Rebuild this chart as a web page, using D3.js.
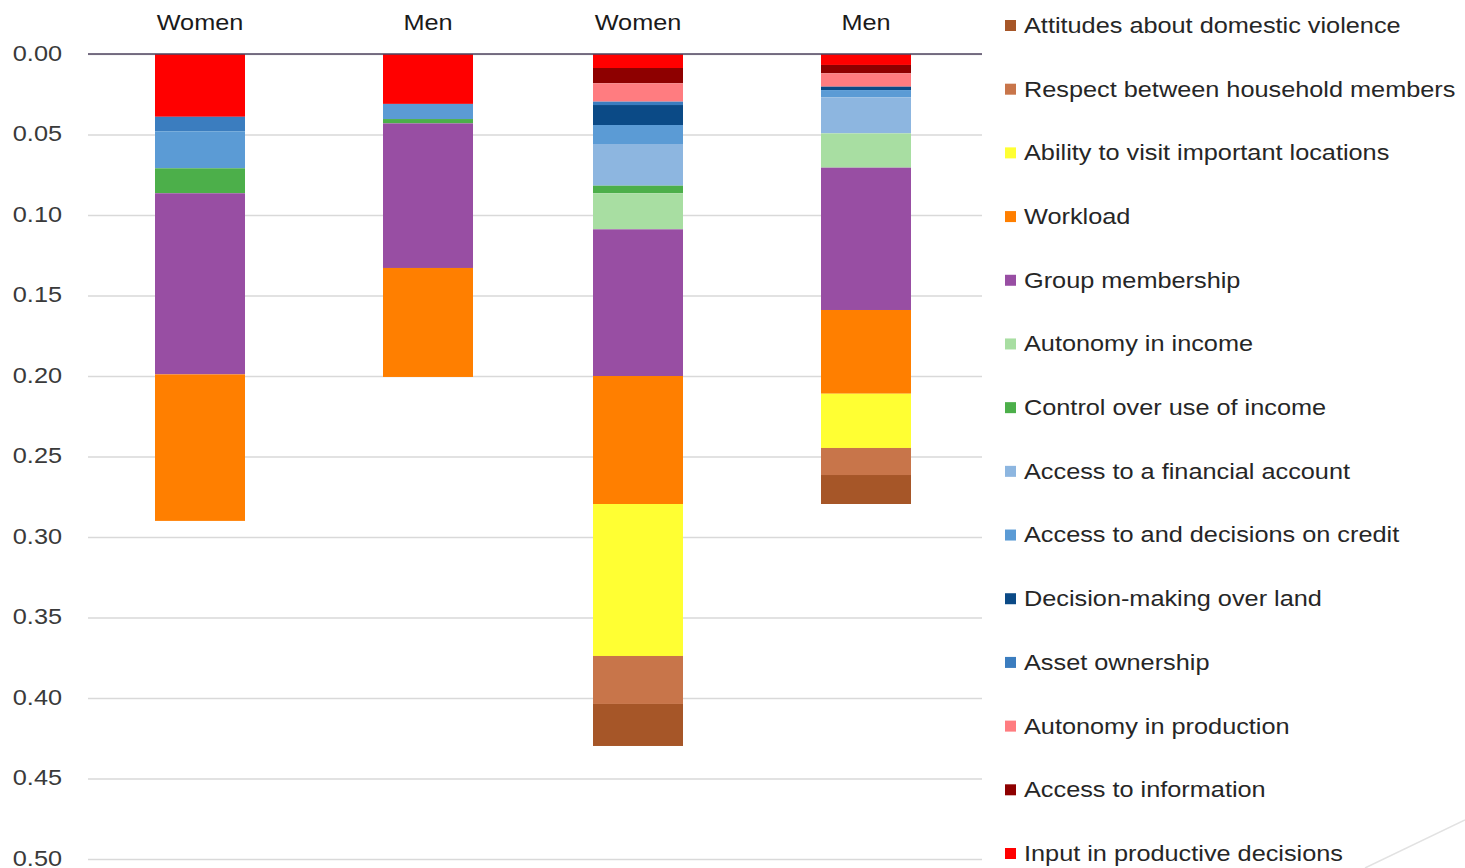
<!DOCTYPE html>
<html>
<head>
<meta charset="utf-8">
<script src="https://cdn.jsdelivr.net/npm/d3@7"></script>
<style>
  html, body { margin: 0; padding: 0; background: #fff; }
  svg { display: block; font-family: "Liberation Sans", Arial, sans-serif; }
</style>
</head>
<body>
<svg id="chart" width="1465" height="868"></svg>
<script>
// Indicators, in stacking order from the zero line downward
const indicators = [
  "Input in productive decisions",
  "Access to information",
  "Autonomy in production",
  "Asset ownership",
  "Decision-making over land",
  "Access to and decisions on credit",
  "Access to a financial account",
  "Control over use of income",
  "Autonomy in income",
  "Group membership",
  "Workload",
  "Ability to visit important locations",
  "Respect between household members",
  "Attitudes about domestic violence"
];
const indicatorColors = [
  "#ff0000", "#8e0000", "#ff7c80", "#3b7dbf", "#0b4a86", "#5b9bd5", "#8db6e0",
  "#4caf4a", "#a8dea2", "#984ea3", "#ff7f00", "#ffff33", "#c8754a", "#a65628"
];

// Bars: two panels, each with a Women and a Men bar
const barLabels = ["Women", "Men", "Women", "Men"];
const barPanels = [0, 0, 1, 1];

// Contribution of each indicator to disempowerment, per bar (same order as indicators)
const women1 = [0.039, 0, 0, 0.009, 0, 0.023, 0, 0.0155, 0, 0.1125, 0.091, 0, 0, 0];
const men1   = [0.031, 0, 0, 0, 0, 0.0094, 0, 0.0027, 0, 0.0898, 0.0677, 0, 0, 0];
const women2 = [0.0087, 0.0095, 0.0114, 0.0021, 0.0124, 0.0118, 0.0259, 0.0047, 0.0224, 0.0911, 0.0795, 0.0944, 0.0298, 0.0261];
const men2   = [0.0068, 0.0052, 0.0083, 0, 0.0021, 0.0045, 0.0224, 0, 0.0213, 0.0884, 0.052, 0.0337, 0.0168, 0.018];
const barValues = [women1, men1, women2, men2];

const yTicks = [0, 0.05, 0.10, 0.15, 0.20, 0.25, 0.30, 0.35, 0.40, 0.45, 0.50];

// Table for d3.stack: one row per bar, one column per indicator
const table = barLabels.map((label, i) => {
  const row = { bar: i, label, panel: barPanels[i] };
  indicators.forEach((name, k) => { row[name] = barValues[i][k]; });
  return row;
});

const svg = d3.select("#chart");
const plot = { left: 88, right: 982, top: 54, bottom: 859 };

const y = d3.scaleLinear().domain([0, 0.5]).range([plot.top, plot.bottom]);
const panelX = d3.scaleBand().domain([0, 1]).range([95, 971]);
const sexX = d3.scaleBand().domain(["Women", "Men"]).range([-9, 447]);
const barWidth = 90;
const barCenter = d => panelX(d.panel) + sexX(d.label) + sexX.bandwidth() / 2;

// Horizontal scaling of text to the chart's wide lettering
const fontSize = 22;
const textStretch = 1.15;

// Gridlines
const grid = svg.append("g")
  .attr("transform", `translate(${plot.left},0)`)
  .call(d3.axisLeft(y).tickValues(yTicks).tickSize(-(plot.right - plot.left)).tickFormat(""));
grid.select(".domain").remove();
grid.selectAll("line").attr("stroke", "#d9d9d9").attr("stroke-width", 1.6);

// Y-axis labels
const yAxis = svg.append("g")
  .attr("transform", `translate(62,-1)`)
  .call(d3.axisLeft(y).tickValues(yTicks).tickSize(0).tickPadding(0).tickFormat(d3.format(".2f")));
yAxis.select(".domain").remove();
yAxis.selectAll(".tick text")
  .attr("font-size", fontSize)
  .attr("fill", "#3a3a3a")
  .attr("font-family", "Liberation Sans, Arial, sans-serif")
  .attr("x", 0)
  .attr("dy", "0.32em")
  .attr("text-anchor", "end")
  .attr("transform", `scale(${textStretch},1)`);

// Stacked bars
const stack = d3.stack().keys(indicators);
const series = stack(table);
svg.append("g")
  .selectAll("g")
  .data(series)
  .join("g")
    .attr("fill", (s, k) => indicatorColors[k])
  .selectAll("rect")
  .data(s => s.filter(p => p[1] - p[0] > 0))
  .join("rect")
    .attr("x", p => barCenter(p.data) - barWidth / 2)
    .attr("width", barWidth)
    .attr("y", p => y(p[0]))
    .attr("height", p => y(p[1]) - y(p[0]));

// Category axis along the zero line
svg.append("line")
  .attr("x1", plot.left).attr("x2", plot.right)
  .attr("y1", y(0)).attr("y2", y(0))
  .attr("stroke", "#4f4560").attr("stroke-width", 1.6);

// Bar labels above the axis
svg.append("g")
  .selectAll("g")
  .data(table)
  .join("g")
    .attr("transform", d => `translate(${barCenter(d)},30) scale(${textStretch},1)`)
  .append("text")
    .attr("text-anchor", "middle")
    .attr("font-size", fontSize)
    .attr("fill", "#1a1a1a")
    .text(d => d.label);

// Legend, listed bottom of the stack first
const legendItems = indicators.map((name, k) => ({ name, color: indicatorColors[k] })).reverse();
const legendY = d3.scalePoint().domain(legendItems.map(d => d.name)).range([25, 853]);
const legend = svg.append("g")
  .selectAll("g")
  .data(legendItems)
  .join("g")
    .attr("transform", d => `translate(1005,${legendY(d.name)})`);
legend.append("rect")
  .attr("x", 0).attr("y", -5).attr("width", 11).attr("height", 11)
  .attr("fill", d => d.color);
legend.append("g")
  .attr("transform", `translate(19,0) scale(${textStretch},1)`)
  .append("text")
    .attr("dy", "0.36em")
    .attr("font-size", fontSize)
    .attr("fill", "#262626")
    .text(d => d.name);

// Thin decorative stroke in the lower-right corner
svg.append("line")
  .attr("x1", 1365).attr("y1", 868).attr("x2", 1465).attr("y2", 820)
  .attr("stroke", "#e2e2e2").attr("stroke-width", 1.5);
</script>
</body>
</html>
